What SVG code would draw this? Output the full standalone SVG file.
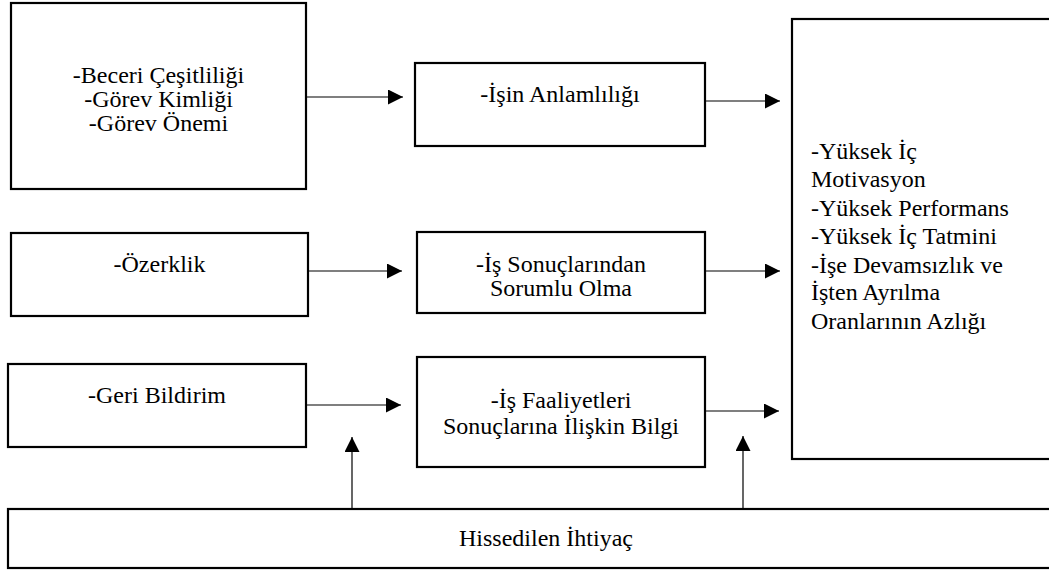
<svg xmlns="http://www.w3.org/2000/svg" width="1049" height="572" viewBox="0 0 1049 572">
<defs>
<style>
.box{fill:#fff;stroke:#000;stroke-width:2.2}
text{font-family:'Liberation Serif','Times New Roman',serif;font-size:24px;fill:#000}
.c{text-anchor:middle}
.con{stroke:#000;stroke-width:1.2;fill:none;marker-end:url(#ah)}
</style>
<marker id="ah" markerUnits="userSpaceOnUse" markerWidth="16" markerHeight="16" refX="15" refY="7.5" orient="auto">
<path d="M0,0 L15,7.5 L0,15 Z" fill="#000"/>
</marker>
</defs>
<rect width="1049" height="572" fill="#fff"/>
<g id="n-beceri">
<rect class="box" x="11" y="3" width="295" height="186"/>
<text class="c" x="158.5" y="83">-Beceri Çeşitliliği</text>
<text class="c" x="158.5" y="107">-Görev Kimliği</text>
<text class="c" x="158.5" y="131">-Görev Önemi</text>
</g>
<g id="n-ozerklik">
<rect class="box" x="11" y="233" width="297" height="83"/>
<text class="c" x="159.5" y="272">-Özerklik</text>
</g>
<g id="n-geri">
<rect class="box" x="8" y="364" width="298" height="83"/>
<text class="c" x="157" y="403">-Geri Bildirim</text>
</g>
<g id="n-anlam">
<rect class="box" x="415" y="63" width="290" height="83"/>
<text class="c" x="560" y="102">-İşin Anlamlılığı</text>
</g>
<g id="n-sorumlu">
<rect class="box" x="417" y="232" width="288" height="81"/>
<text class="c" x="561" y="272">-İş Sonuçlarından</text>
<text class="c" x="561" y="296">Sorumlu Olma</text>
</g>
<g id="n-bilgi">
<rect class="box" x="417" y="357" width="288" height="110"/>
<text class="c" x="561" y="408">-İş Faaliyetleri</text>
<text class="c" x="561" y="434">Sonuçlarına İlişkin Bilgi</text>
</g>
<g id="n-sonuc">
<rect class="box" x="792" y="19" width="262" height="440"/>
<text x="811" y="159">-Yüksek İç</text>
<text x="811" y="187">Motivasyon</text>
<text x="811" y="216">-Yüksek Performans</text>
<text x="811" y="244">-Yüksek İç Tatmini</text>
<text x="811" y="273">-İşe Devamsızlık ve</text>
<text x="811" y="300">İşten Ayrılma</text>
<text x="811" y="329">Oranlarının Azlığı</text>
</g>
<g id="n-ihtiyac">
<rect class="box" x="8" y="509" width="1046" height="59"/>
<text class="c" x="546" y="546">Hissedilen İhtiyaç</text>
</g>
<g id="connectors">
<line class="con" x1="307" y1="97" x2="403" y2="97"/>
<line class="con" x1="705" y1="101" x2="780" y2="101"/>
<line class="con" x1="308" y1="271" x2="402" y2="271"/>
<line class="con" x1="705" y1="271" x2="780" y2="271"/>
<line class="con" x1="306" y1="405" x2="401" y2="405"/>
<line class="con" x1="705" y1="411" x2="779" y2="411"/>
<line class="con" x1="352" y1="508" x2="352" y2="437"/>
<line class="con" x1="743" y1="508" x2="743" y2="436"/>
</g>
</svg>
